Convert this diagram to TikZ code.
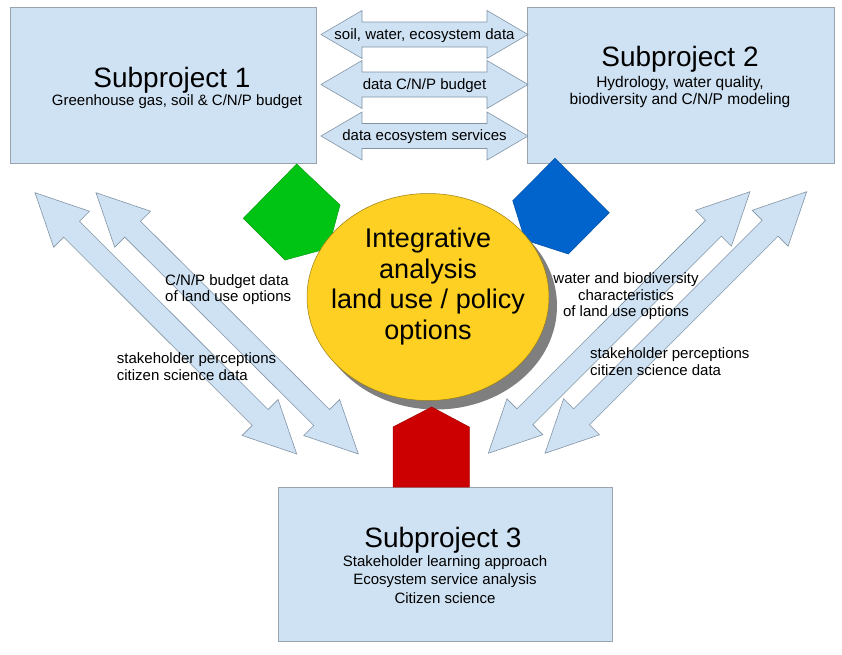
\documentclass[tikz,border=0pt]{standalone}
\usepackage{fontspec}
\setmainfont{Liberation Sans}
\usetikzlibrary{calc,shapes.geometric,shadows}

\definecolor{boxblue}{HTML}{CFE2F3}
\definecolor{boxline}{HTML}{9AA4AE}
\definecolor{arrowline}{HTML}{8294A6}
\definecolor{pentgreen}{HTML}{00C414}
\definecolor{pentblue}{HTML}{0064CC}
\definecolor{pentred}{HTML}{CC0000}
\definecolor{coreyellow}{HTML}{FDD023}
\definecolor{coreshadow}{HTML}{7F7F7F}

\tikzset{
  box/.style={rectangle, draw=boxline, fill=boxblue, line width=0.8pt},
  flow/.style={draw=arrowline, fill=boxblue, line width=0.6pt, line join=miter},
  bigtitle/.style={font=\fontsize{28}{32}\selectfont, inner sep=0pt},
  subtext/.style={font=\fontsize{15}{17}\selectfont, align=center, inner sep=0pt},
}

% double arrow outline between two coordinates
% #3 head length, #4 head half width, #5 shaft half width
\newcommand{\dblarrow}[5]{%
  \coordinate (ha) at ($(#1)!#3!(#2)$);
  \coordinate (hb) at ($(#2)!#3!(#1)$);
  \draw[flow] (#1) -- ($(ha)!#4!90:(#2)$) -- ($(ha)!#5!90:(#2)$)
    -- ($(hb)!#5!-90:(#1)$) -- ($(hb)!#4!-90:(#1)$) -- (#2)
    -- ($(hb)!#4!90:(#1)$) -- ($(hb)!#5!90:(#1)$)
    -- ($(ha)!#5!-90:(#2)$) -- ($(ha)!#4!-90:(#2)$) -- cycle;
}

\begin{document}
\begin{tikzpicture}[x=1pt, y=-1pt]
    \useasboundingbox (0,0) rectangle (842,654);

    % Subproject boxes
    \node[box, minimum width=306pt, minimum height=156pt] (sp1) at (163,85) {};
    \node[box, minimum width=307pt, minimum height=156pt] (sp2) at (680.5,85) {};
    \node[box, minimum width=334pt, minimum height=154pt] (sp3) at (445,564) {};

    % Data exchange between subproject 1 and 2
    \foreach \y/\txt [count=\i] in {34.5/{soil, water, ecosystem data}, 84.5/{data C/N/P budget}, 136/{data ecosystem services}} {
        \coordinate (tl\i) at (321,\y);
        \coordinate (tr\i) at (528,\y);
        \dblarrow{tl\i}{tr\i}{41pt}{24pt}{12.5pt}
        \node[subtext, anchor=base] (tt\i) at (424.5,{\y+4.5}) {\txt};
    }

    % Diagonal exchange arrows
    \coordinate (a1) at (35,192.7);   \coordinate (a2) at (296.7,454);
    \coordinate (b1) at (96,192.7);   \coordinate (b2) at (358.3,454);
    \coordinate (c1) at (750,191.7);  \coordinate (c2) at (488.3,453.3);
    \coordinate (d1) at (806.7,191.7); \coordinate (d2) at (545,453.3);
    \foreach \s/\t in {a1/a2, b1/b2, c1/c2, d1/d2} {
        \dblarrow{\s}{\t}{51.7pt}{25.4pt}{11.2pt}
    }

    % Pentagons
    \filldraw[fill=pentgreen, draw=pentgreen!80!black, line width=0.5pt]
        (296.7,164) -- (340,205) -- (328.3,248.3) -- (285,260) -- (243.3,218.3) -- cycle;
    \filldraw[fill=pentblue, draw=pentblue!80!black, line width=0.5pt]
        (555,158.3) -- (609.3,212.7) -- (568.3,254) -- (525,240) -- (512.7,200.7) -- cycle;

    % Integrative analysis
    \node[ellipse, fill=coreyellow, draw=coreyellow!60!black, line width=0.5pt,
          minimum width=242pt, minimum height=207pt,
          drop shadow={shadow xshift=8pt, shadow yshift=-9pt, fill=coreshadow, opacity=1}]
        (core) at (428,297) {};
    \node[font=\fontsize{27}{30.5}\selectfont, align=center, inner sep=0pt, anchor=north]
        (coretext) at (428,228) {Integrative\\analysis\\land use / policy\\options};

    \filldraw[fill=pentred, draw=pentred!80!black, line width=0.5pt]
        (393,487) -- (393,427) -- (431.7,407) -- (469.3,427) -- (469.3,487) -- cycle;

    % Box texts
    \node[bigtitle, anchor=base] (t1) at (172,87) {Subproject 1};
    \node[subtext, anchor=base] (s1) at (177,105) {Greenhouse gas, soil \& C/N/P budget};
    \node[bigtitle, anchor=base] (t2) at (680,66.7) {Subproject 2};
    \node[subtext, anchor=north, font=\fontsize{15.5}{16.5}\selectfont] (s2) at (680,76.2)
        {Hydrology, water quality,\\biodiversity and C/N/P modeling};
    \node[bigtitle, anchor=base] (t3) at (443,547) {Subproject 3};
    \node[subtext, anchor=north, font=\fontsize{15}{18.5}\selectfont] (s3) at (445,555.3)
        {Stakeholder learning approach\\Ecosystem service analysis\\Citizen science};

    % Arrow labels
    \node[subtext, align=left, anchor=north west, font=\fontsize{15}{16.7}\selectfont] (l1) at (165,274)
        {C/N/P budget data\\of land use options};
    \node[subtext, align=left, anchor=north west, font=\fontsize{15}{16.7}\selectfont] (l2) at (116.7,352.3)
        {stakeholder perceptions\\citizen science data};
    \node[subtext, anchor=north, font=\fontsize{15}{16.7}\selectfont] (r1) at (626,272.3)
        {water and biodiversity\\characteristics\\of land use options};
    \node[subtext, align=left, anchor=north west, font=\fontsize{15}{16.7}\selectfont] (r2) at (590,347.3)
        {stakeholder perceptions\\citizen science data};
\end{tikzpicture}
\end{document}
